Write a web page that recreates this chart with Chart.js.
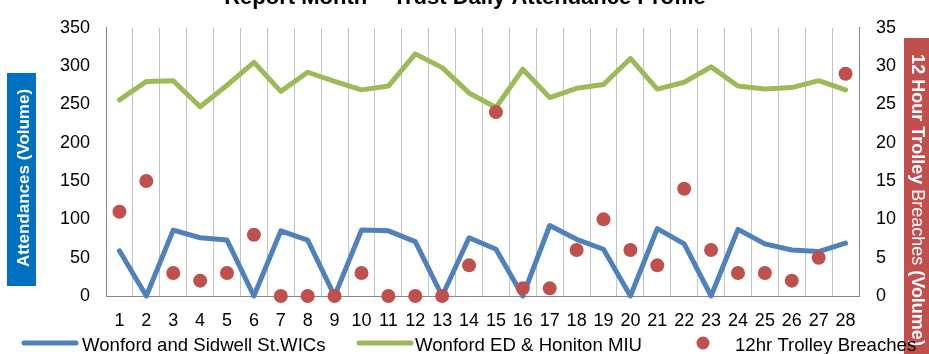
<!DOCTYPE html>
<html>
<head>
<meta charset="utf-8">
<script src="https://cdn.jsdelivr.net/npm/chart.js@4/dist/chart.umd.min.js"></script>
<style>
  html, body { margin: 0; padding: 0; background: #fff; overflow: hidden; }
  #wrap { width: 929px; height: 354px; position: relative; }
</style>
</head>
<body>
<div id="wrap"><canvas id="c" width="929" height="354"></canvas></div>
<script>
// Day of month
const days = ['1','2','3','4','5','6','7','8','9','10','11','12','13','14',
              '15','16','17','18','19','20','21','22','23','24','25','26','27','28'];

// Daily attendances (left axis)
const wicAttendances = [59, 0, 86, 76, 73, 0, 85, 73, 0, 86, 85, 71, 0, 76,
                        61, 0, 92, 74, 61, 0, 88, 68, 0, 87, 68, 60, 58, 69];
const edMiuAttendances = [256, 280, 281, 247, 275, 305, 267, 292, 280, 269, 274, 316, 298, 265,
                          246, 296, 259, 271, 276, 310, 270, 279, 299, 274, 270, 272, 281, 269];

// 12 hour trolley breaches (right axis)
const trolleyBreaches = [11, 15, 3, 2, 3, 8, 0, 0, 0, 3, 0, 0, 0, 4,
                         24, 1, 1, 6, 10, 6, 4, 14, 6, 3, 3, 2, 5, 29];

// Axis tick settings
const leftTicks = { min: 0, max: 350, step: 50 };
const rightTicks = { min: 0, max: 35, step: 5 };

const FONT = '"Liberation Sans", Arial, sans-serif';
const BLUE = '#4F81BD';
const GREEN = '#9BBB59';
const RED = '#C0504D';

// Title, axis caption boxes and the legend row
const decor = {
  id: 'decor',
  afterDraw(chart) {
    const ctx = chart.ctx;
    ctx.save();

    // Title (sits at the very top edge)
    ctx.fillStyle = '#000';
    ctx.font = 'bold 22px ' + FONT;
    ctx.textAlign = 'center';
    ctx.textBaseline = 'alphabetic';
    ctx.fillText('Report Month  - Trust Daily Attendance Profile', 465, 4);

    // Left caption box
    ctx.fillStyle = '#0070C0';
    ctx.fillRect(7, 73, 29, 213);
    ctx.save();
    ctx.translate(29, 178);
    ctx.rotate(-Math.PI / 2);
    ctx.fillStyle = '#fff';
    ctx.font = 'bold 17px ' + FONT;
    ctx.textAlign = 'center';
    ctx.fillText('Attendances (Volume)', 0, 0);
    ctx.restore();

    // Right caption box with mixed weights
    ctx.fillStyle = RED;
    ctx.fillRect(904, 38, 30, 320);
    ctx.save();
    ctx.translate(912, 0);
    ctx.rotate(Math.PI / 2);
    ctx.fillStyle = '#fff';
    ctx.textAlign = 'left';
    const parts = [
      ['12 Hour Trolley ', 'bold'],
      ['Breaches ', 'normal'],
      ['(Volume)', 'bold']
    ];
    let total = 0;
    parts.forEach(p => { ctx.font = p[1] + ' 18px ' + FONT; total += ctx.measureText(p[0]).width; });
    let pos = 200 - total / 2;
    parts.forEach(p => {
      ctx.font = p[1] + ' 18px ' + FONT;
      ctx.fillText(p[0], pos, 0);
      pos += ctx.measureText(p[0]).width;
    });
    ctx.restore();

    // Legend
    const ds = chart.data.datasets;
    const ly = 343;
    ctx.font = '18.6px ' + FONT;
    ctx.fillStyle = '#000';
    ctx.textAlign = 'left';
    ctx.textBaseline = 'alphabetic';

    ctx.lineWidth = 5;
    ctx.lineCap = 'round';
    ctx.strokeStyle = ds[1].borderColor;
    ctx.beginPath(); ctx.moveTo(24, ly); ctx.lineTo(76, ly); ctx.stroke();
    ctx.fillText(ds[1].label, 82, 351);

    ctx.strokeStyle = ds[2].borderColor;
    ctx.beginPath(); ctx.moveTo(359, ly); ctx.lineTo(411, ly); ctx.stroke();
    ctx.fillText(ds[2].label, 415, 351);

    ctx.fillStyle = ds[0].backgroundColor;
    ctx.beginPath(); ctx.arc(703, ly, 6.5, 0, Math.PI * 2); ctx.fill();
    ctx.fillStyle = '#000';
    ctx.fillText(ds[0].label, 735, 351);

    ctx.restore();
  }
};

new Chart(document.getElementById('c'), {
  type: 'line',
  data: {
    labels: days,
    datasets: [
      {
        label: '12hr Trolley Breaches',
        data: trolleyBreaches,
        yAxisID: 'y1',
        showLine: false,
        pointRadius: 7,
        pointHoverRadius: 7,
        pointBackgroundColor: RED,
        pointBorderWidth: 0,
        backgroundColor: RED,
        borderColor: RED,
        clip: false,
        order: 0
      },
      {
        label: 'Wonford and Sidwell St.WICs',
        data: wicAttendances,
        yAxisID: 'y',
        borderColor: BLUE,
        backgroundColor: BLUE,
        borderWidth: 5,
        pointRadius: 0,
        tension: 0,
        borderJoinStyle: 'round',
        borderCapStyle: 'round',
        clip: false,
        order: 1
      },
      {
        label: 'Wonford ED & Honiton MIU',
        data: edMiuAttendances,
        yAxisID: 'y',
        borderColor: GREEN,
        backgroundColor: GREEN,
        borderWidth: 5,
        pointRadius: 0,
        tension: 0,
        borderJoinStyle: 'round',
        borderCapStyle: 'round',
        clip: false,
        order: 2
      }
    ]
  },
  options: {
    responsive: false,
    animation: false,
    events: [],
    layout: { padding: { top: 15, left: 0, right: 0, bottom: 0 } },
    plugins: {
      legend: { display: false },
      title: { display: false },
      tooltip: { enabled: false }
    },
    scales: {
      x: {
        type: 'category',
        offset: true,
        grid: { offset: true, color: '#C4C4C4', lineWidth: 1, drawTicks: false },
        border: { display: true, color: '#868686', width: 1 },
        ticks: {
          color: '#000', padding: 14, maxRotation: 0, autoSkip: false,
          font: { size: 18, family: FONT }
        },
        afterFit(s) { s.height = 58; }
      },
      y: {
        position: 'left',
        min: leftTicks.min, max: leftTicks.max,
        grid: { display: false, drawTicks: false },
        border: { display: true, color: '#868686', width: 1 },
        ticks: {
          stepSize: leftTicks.step, color: '#000', padding: 16,
          font: { size: 18, family: FONT }
        },
        afterFit(s) { s.width = 106; }
      },
      y1: {
        position: 'right',
        min: rightTicks.min, max: rightTicks.max,
        grid: { display: false, drawTicks: false },
        border: { display: true, color: '#868686', width: 1 },
        ticks: {
          stepSize: rightTicks.step, color: '#000', padding: 17,
          font: { size: 18, family: FONT }
        },
        afterFit(s) { s.width = 70; }
      }
    }
  },
  plugins: [decor]
});
</script>
</body>
</html>
